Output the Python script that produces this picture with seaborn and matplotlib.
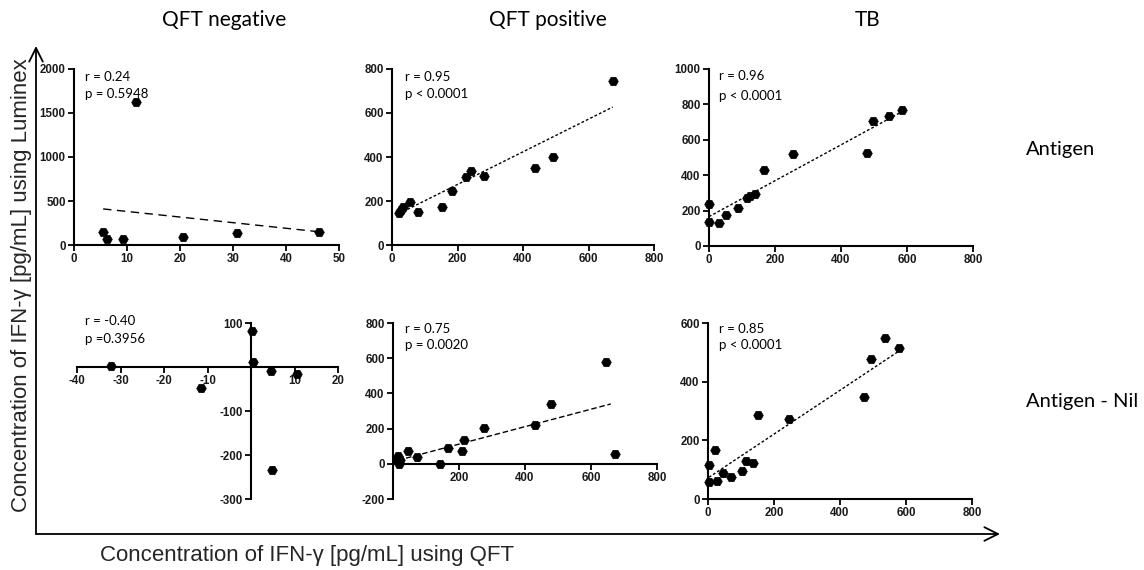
import matplotlib
matplotlib.use("Agg")
import matplotlib.pyplot as plt
from matplotlib.patches import FancyArrowPatch
import seaborn as sns
import pandas as pd

# ---------------- data ----------------
col_titles = ["QFT negative", "QFT positive", "TB"]
row_titles = ["Antigen", "Antigen - Nil"]
x_label = "Concentration of IFN-\u03b3 [pg/mL] using QFT"
y_label = "Concentration of IFN-\u03b3 [pg/mL] using Luminex"

# Row 1: Antigen
neg_ag_x = [5.5, 6.3, 9.3, 11.7, 20.5, 30.7, 46.3]
neg_ag_y = [150, 65, 65, 1620, 95, 140, 150]
neg_ag_fit_x = [5.5, 46.3]
neg_ag_fit_y = [410, 150]

pos_ag_x = [21, 27, 34, 54, 80, 154, 184, 227, 240, 282, 437, 492, 674]
pos_ag_y = [144, 159, 175, 197, 152, 175, 246, 307, 338, 314, 349, 398, 747]
pos_ag_fit_x = [34, 674]
pos_ag_fit_y = [152, 627]

tb_ag_x = [0, 0, 30, 52, 89, 114, 124, 139, 168, 256, 480, 496, 544, 586]
tb_ag_y = [236, 134, 132, 174, 217, 270, 283, 294, 430, 519, 525, 704, 732, 770]
tb_ag_fit_x = [0, 586]
tb_ag_fit_y = [166, 760]

# Row 2: Antigen - Nil
neg_nil_x = [-32.1, -11.4, 0.2, 0.5, 4.5, 10.5, 4.9]
neg_nil_y = [1.5, -48, 81, 12, -8, -15, -234]

pos_nil_x = [12, 15, 17, 22, 44, 73, 141, 166, 210, 214, 276, 431, 478, 646, 674]
pos_nil_y = [23, 42, 0, 23, 74, 36, 0, 87, 72, 133, 206, 222, 337, 581, 53]
pos_nil_fit_x = [15, 660]
pos_nil_fit_y = [20, 340]

tb_nil_x = [3, 3, 27, 20, 45, 71, 102, 116, 136, 152, 244, 472, 494, 537, 580]
tb_nil_y = [57, 115, 62, 168, 89, 75, 94, 128, 123, 285, 274, 347, 477, 549, 514]
tb_nil_fit_x = [3, 573]
tb_nil_fit_y = [74, 500]

stats = [
    ["r = 0.24", "p = 0.5948"],
    ["r = 0.95", "p < 0.0001"],
    ["r = 0.96", "p < 0.0001"],
    ["r = -0.40", "p =0.3956"],
    ["r = 0.75", "p = 0.0020"],
    ["r = 0.85", "p < 0.0001"],
]

x_ticks = [
    [0, 10, 20, 30, 40, 50],
    [0, 200, 400, 600, 800],
    [0, 200, 400, 600, 800],
    [-40, -30, -20, -10, 0, 10, 20],
    [0, 200, 400, 600, 800],
    [0, 200, 400, 600, 800],
]
y_ticks = [
    [0, 500, 1000, 1500, 2000],
    [0, 200, 400, 600, 800],
    [0, 200, 400, 600, 800, 1000],
    [-300, -200, -100, 0, 100],
    [-200, 0, 200, 400, 600, 800],
    [0, 200, 400, 600],
]

# ---------------- styling ----------------
sns.set_theme(style="ticks")
plt.rcParams["font.family"] = ["Liberation Sans", "DejaVu Sans"]
TXT = ["Lato", "DejaVu Sans"]
TICKF = ["Liberation Sans", "DejaVu Sans"]

W, H = 1144, 570
fig = plt.figure(figsize=(W / 100, H / 100), dpi=100)

# axes rectangles in pixels: left, top, right, bottom
rects = [
    (74, 69, 339, 245),
    (392, 69, 654, 245),
    (709, 69, 973, 246),
    (77, 323, 338, 499),
    (393, 323, 657, 499),
    (708, 323, 972, 499),
]
text_pos = [
    (0.042, 0.955, 0.86),
    (0.05, 0.955, 0.86),
    (0.038, 0.96, 0.85),
    (0.03, 1.01, 0.91),
    (0.045, 0.966, 0.875),
    (0.042, 0.966, 0.875),
]

panels = [
    (neg_ag_x, neg_ag_y, neg_ag_fit_x, neg_ag_fit_y, (0, (6, 4))),
    (pos_ag_x, pos_ag_y, pos_ag_fit_x, pos_ag_fit_y, (0, (2, 1.5))),
    (tb_ag_x, tb_ag_y, tb_ag_fit_x, tb_ag_fit_y, (0, (2, 1.5))),
    (neg_nil_x, neg_nil_y, None, None, None),
    (pos_nil_x, pos_nil_y, pos_nil_fit_x, pos_nil_fit_y, (0, (4, 2))),
    (tb_nil_x, tb_nil_y, tb_nil_fit_x, tb_nil_fit_y, (0, (2, 1.5))),
]

for i, (px, py, fx, fy, ls) in enumerate(panels):
    l, t, r, b = rects[i]
    ax = fig.add_axes([l / W, (H - b) / H, (r - l) / W, (b - t) / H])
    ax.set_facecolor("none")
    # spine placement first (it resets tick objects)
    for s in ("top", "right"):
        ax.spines[s].set_visible(False)
    if i == 3:
        ax.spines["left"].set_position(("data", 0))
        ax.spines["bottom"].set_position(("data", 0))
    if i == 4:
        ax.spines["bottom"].set_position(("data", 0))
    for s in ("left", "bottom"):
        ax.spines[s].set_linewidth(1.5)
        ax.spines[s].set_color("black")

    df = pd.DataFrame({"x": px, "y": py})
    sns.scatterplot(data=df, x="x", y="y", ax=ax, marker="H", s=48,
                    color="black", edgecolor="black", linewidth=0.5,
                    clip_on=False, zorder=3)
    if fx is not None:
        dfl = pd.DataFrame({"x": fx, "y": fy})
        sns.lineplot(data=dfl, x="x", y="y", ax=ax, color="black",
                     linewidth=1.0, linestyle=ls, zorder=2)
    xt, yt = x_ticks[i], y_ticks[i]
    ax.set_xlim(xt[0], xt[-1])
    ax.set_ylim(yt[0], yt[-1])
    zero_axes = i in (3, 4)
    xl = [("" if (zero_axes and v == 0) else str(v)) for v in xt]
    yl = [("" if (i == 3 and v == 0) else str(v)) for v in yt]
    ax.set_xticks(xt, labels=xl)
    ax.set_yticks(yt, labels=yl)
    ax.tick_params(axis="both", direction="out", length=4, width=1.3,
                   pad=2, color="black", labelsize=8.3, labelcolor="#1a1a1a")
    for lab in ax.get_xticklabels() + ax.get_yticklabels():
        lab.set_fontweight("bold")
        lab.set_family(TICKF)
    ax.set_xlabel("")
    ax.set_ylabel("")
    tx, ty1, ty2 = text_pos[i]
    ax.text(tx, ty1, stats[i][0], transform=ax.transAxes, ha="left",
            va="center", fontsize=9.5, family=TXT, color="black")
    ax.text(tx, ty2, stats[i][1], transform=ax.transAxes, ha="left",
            va="center", fontsize=9.5, family=TXT, color="black")

# column titles
for cx, title in zip([224, 548, 868], col_titles):
    fig.text(cx / W, (H - 20) / H, title, ha="center", va="center",
             fontsize=15, family=TXT, color="black")
# row titles
for ry, title in zip([150, 402], row_titles):
    fig.text(1026 / W, (H - ry) / H, title, ha="left", va="center",
             fontsize=14.5, family=TXT, color="black")

# outer axis arrows
ox, oy = 36, 534
arrow_kw = dict(arrowstyle="->,head_length=0.7,head_width=0.35",
                mutation_scale=14, color="black", linewidth=1.3,
                shrinkA=0, shrinkB=0, transform=fig.transFigure)
fig.add_artist(FancyArrowPatch((ox / W, (H - oy) / H), (ox / W, (H - 46) / H),
                               **arrow_kw))
fig.add_artist(FancyArrowPatch((ox / W, (H - oy) / H), (1000 / W, (H - oy) / H),
                               **arrow_kw))

fig.text(100 / W, (H - 555) / H, x_label, ha="left", va="center",
         fontsize=16, family=["Liberation Sans", "DejaVu Sans"])
fig.text(22 / W, (H - 285) / H, y_label, ha="center", va="center",
         rotation=90, fontsize=16, family=["Liberation Sans", "DejaVu Sans"])

fig.savefig("out.png", dpi=100, facecolor="white")
